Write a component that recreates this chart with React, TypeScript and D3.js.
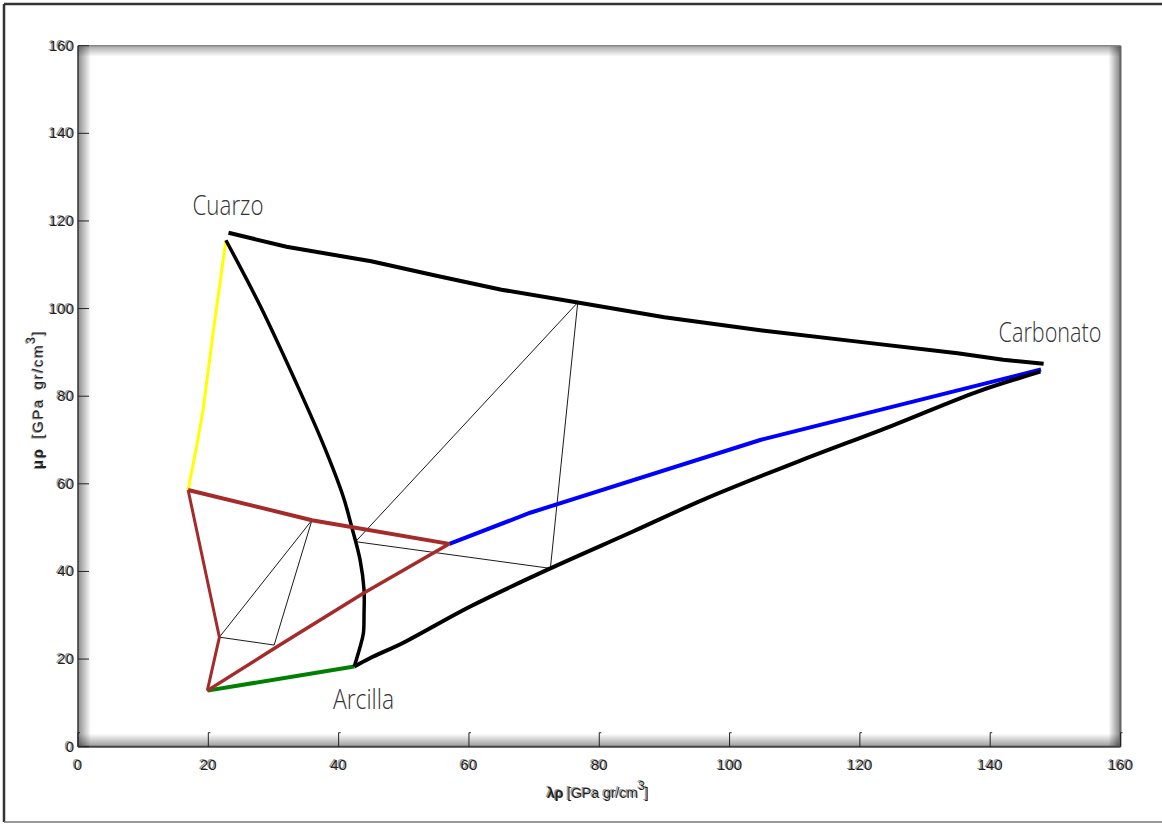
import React from "react";
import * as d3 from "d3";

type P = [number, number];

// ---- data ----
const xTicks = [0, 20, 40, 60, 80, 100, 120, 140, 160];
const yTicks = [0, 20, 40, 60, 80, 100, 120, 140, 160];

const upperBlack: P[] = [
  [23.1, 117.3], [32.0, 114.1], [45, 110.8], [55, 107.5], [65, 104.3],
  [76.7, 101.4], [90, 98.0], [105, 95.0], [120, 92.4], [135, 89.8],
  [142, 88.3], [148.2, 87.4],
];
const leftBlack: P[] = [
  [22.7, 115.6], [27.9, 100.8], [33.5, 83.0], [37.5, 69.5],
  [40.7, 57.1], [42.0, 50.2], [43.3, 42.6], [43.9, 35.8],
  [43.9, 30.4], [43.8, 25.9], [43.3, 22.8], [42.4, 18.3],
];
const lowerBlack: P[] = [
  [42.4, 18.3], [44.8, 20.2], [50, 23.8], [60.2, 32.0], [72.5, 40.7],
  [85, 49.0], [96, 56.4], [110, 64.8], [125, 73.3], [138, 81.0],
  [147.7, 85.6],
];
const blueLine: P[] = [[57.0, 46.3], [69.4, 53.4], [104.7, 70.0], [147.8, 86.1]];
const yellowLine: P[] = [[22.7, 115.6], [20.8, 95.2], [19.2, 76.9], [18.2, 68.5], [16.9, 58.6]];
const greenLine: P[] = [[19.85, 12.8], [42.4, 18.3]];
const brownUpper: P[] = [[16.9, 58.6], [35.9, 51.7], [57.0, 46.3]];
const brownLeft: P[] = [[16.9, 58.6], [21.7, 25.0], [19.85, 12.8]];
const brownDiag: P[] = [[19.85, 12.8], [30.1, 22.4], [43.8, 35.0], [57.0, 46.3]];
const thinLines: P[][] = [
  [[21.7, 25.0], [35.9, 51.7]],
  [[35.9, 51.7], [30.1, 23.2]],
  [[21.7, 25.0], [30.1, 23.2]],
  [[42.6, 46.8], [76.7, 101.4]],
  [[76.7, 101.4], [72.5, 40.7]],
  [[42.6, 46.8], [72.5, 40.7]],
];
const labels = ["Cuarzo", "Carbonato", "Arcilla"];

export default function App() {
  const W = 1162, H = 824;
  const x = d3.scaleLinear().domain([0, 160]).range([78, 1120.5]);
  const y = d3.scaleLinear().domain([0, 160]).range([746.7, 45.7]);
  const line = d3.line<P>().x((d) => x(d[0])).y((d) => y(d[1]));
  const smooth = d3.line<P>().x((d) => x(d[0])).y((d) => y(d[1])).curve(d3.curveCatmullRom.alpha(0.5));

  const x0 = x(0), x1 = x(160), y0 = y(0), y1 = y(160);
  const tickFont = "'Liberation Sans Narrow', 'Liberation Sans', Arial, sans-serif";
  const lblFont = "'Open Sans', 'Noto Sans', sans-serif";

  const shadowText = (key: string, tx: number, ty: number, txt: string, anchor: string) => (
    <g key={key} fontFamily={tickFont} fontSize={15} textAnchor={anchor}>
      <text x={tx - 1.5} y={ty - 1} fill="#9a9a9a">{txt}</text>
      <text x={tx} y={ty} fill="#222">{txt}</text>
    </g>
  );

  const labelPos: { x: number; y: number; w: number }[] = [
    { x: 192.5, y: 215, w: 71 },
    { x: 998.5, y: 342, w: 103 },
    { x: 333, y: 709, w: 61 },
  ];

  const axisTitle = (sym: string, fill: string) => (
    <>
      <tspan fontWeight="bold">{sym}</tspan> [GPa gr/cm<tspan dy={-8} fontSize={12}>3</tspan><tspan dy={8}>]</tspan>
    </>
  );

  return (
    <svg width={W} height={H} style={{ position: "absolute", left: 0, top: 0, display: "block" }}
      xmlns="http://www.w3.org/2000/svg">
      <defs>
        <linearGradient id="gL" x1="0" x2="1" y1="0" y2="0">
          <stop offset="0" stopColor="#000" stopOpacity="0.45" />
          <stop offset="1" stopColor="#000" stopOpacity="0" />
        </linearGradient>
        <linearGradient id="gR" x1="0" x2="1" y1="0" y2="0">
          <stop offset="0" stopColor="#000" stopOpacity="0" />
          <stop offset="1" stopColor="#000" stopOpacity="0.5" />
        </linearGradient>
        <linearGradient id="gT" x1="0" x2="0" y1="0" y2="1">
          <stop offset="0" stopColor="#000" stopOpacity="0.35" />
          <stop offset="1" stopColor="#000" stopOpacity="0" />
        </linearGradient>
        <linearGradient id="gB" x1="0" x2="0" y1="0" y2="1">
          <stop offset="0" stopColor="#000" stopOpacity="0" />
          <stop offset="1" stopColor="#000" stopOpacity="0.4" />
        </linearGradient>
      </defs>
      <rect x={0} y={0} width={W} height={H} fill="#fff" />
      {/* outer frame */}
      <line x1={4} y1={4} x2={W} y2={4} stroke="#333" strokeWidth={2.5} />
      <line x1={4} y1={4} x2={4} y2={822} stroke="#333" strokeWidth={2.5} />
      <line x1={4} y1={822} x2={W} y2={822} stroke="#777" strokeWidth={1.5} />

      {/* beveled axes box */}
      <rect x={x0} y={y1} width={13} height={y0 - y1} fill="url(#gL)" />
      <rect x={x1 - 12} y={y1} width={12} height={y0 - y1} fill="url(#gR)" />
      <rect x={x0} y={y1} width={x1 - x0} height={11} fill="url(#gT)" />
      <rect x={x0} y={y0 - 13} width={x1 - x0} height={13} fill="url(#gB)" />
      <line x1={x0} y1={y1} x2={x1} y2={y1} stroke="#888" strokeWidth={1.5} />
      <line x1={x1} y1={y1} x2={x1} y2={y0} stroke="#666" strokeWidth={2} />
      <line x1={x0} y1={y0} x2={x1} y2={y0} stroke="#444" strokeWidth={2} />
      <line x1={x0} y1={y1} x2={x0} y2={y0} stroke="#333" strokeWidth={1.5} />

      {/* ticks */}
      {yTicks.map((t) => (
        <line key={"yt" + t} x1={x0} x2={x0 + 11} y1={y(t)} y2={y(t)} stroke="#222" strokeWidth={1} />
      ))}
      {xTicks.map((t) => (
        <g key={"xt" + t}>
          <line x1={x(t)} x2={x(t)} y1={y0} y2={y0 - 14} stroke="#222" strokeWidth={1} />
          <line x1={x(t)} x2={x(t) + 2} y1={y0 - 14} y2={y0 - 14} stroke="#222" strokeWidth={1} />
        </g>
      ))}
      {yTicks.map((t) => shadowText("yl" + t, 74, y(t) + 5, String(t), "end"))}
      {xTicks.map((t) => shadowText("xl" + t, x(t), 770, String(t), "middle"))}

      {/* axis titles */}
      <g fontFamily={tickFont} fontSize={14}>
        <text x={547} y={798} fill="#9a9a9a" transform="translate(-1.5,-1)">{axisTitle("λρ", "#9a9a9a")}</text>
        <text x={547} y={798} fill="#222">{axisTitle("λρ", "#222")}</text>
      </g>
      <g fontFamily={tickFont} fontSize={15} letterSpacing={1.6} wordSpacing={3} transform="translate(43,469) rotate(-90)">
        <text x={0} y={0} fill="#9a9a9a" transform="translate(-1,-1.5)">{axisTitle("μρ", "#9a9a9a")}</text>
        <text x={0} y={0} fill="#222">{axisTitle("μρ", "#222")}</text>
      </g>

      {/* thin construction lines */}
      {thinLines.map((l, i) => (
        <path key={"th" + i} d={line(l) || ""} fill="none" stroke="#000" strokeWidth={0.9} />
      ))}

      {/* main lines */}
      <path d={line(yellowLine) || ""} fill="none" stroke="#ffff00" strokeWidth={3} />
      <path d={line(greenLine) || ""} fill="none" stroke="#008000" strokeWidth={4} />
      <path d={line(blueLine) || ""} fill="none" stroke="#0000ff" strokeWidth={4} />
      <path d={line(upperBlack) || ""} fill="none" stroke="#000" strokeWidth={4} />
      <path d={smooth(leftBlack) || ""} fill="none" stroke="#000" strokeWidth={3.5} />
      <path d={smooth(lowerBlack) || ""} fill="none" stroke="#000" strokeWidth={4} />
      <path d={line(brownUpper) || ""} fill="none" stroke="#a52a2a" strokeWidth={4} />
      <path d={line(brownLeft) || ""} fill="none" stroke="#a52a2a" strokeWidth={3} />
      <path d={line(brownDiag) || ""} fill="none" stroke="#a52a2a" strokeWidth={3.5} />

      {/* end-member labels */}
      {labels.map((l, i) => (
        <text key={l} x={labelPos[i].x} y={labelPos[i].y} fontFamily={lblFont} fontWeight={300}
          fontSize={27} fill="#333" textLength={labelPos[i].w} lengthAdjust="spacingAndGlyphs">
          {l}
        </text>
      ))}
    </svg>
  );
}
